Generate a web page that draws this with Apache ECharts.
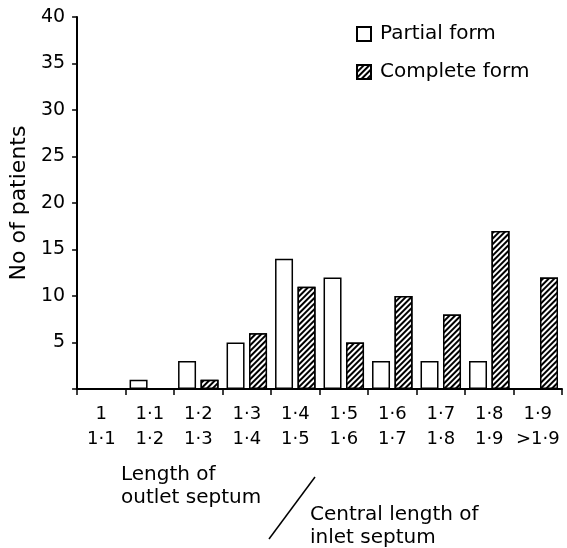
<!DOCTYPE html>
<html><head><meta charset="utf-8">
<script src="https://cdn.jsdelivr.net/npm/echarts@6/dist/echarts.min.js"></script>
<style>html,body{margin:0;padding:0;background:#fff}#c{width:567px;height:548px}</style>
</head><body><div id="c"></div>
<script>
const topLabels = ['1','1·1','1·2','1·3','1·4','1·5','1·6','1·7','1·8','1·9'];
const bottomLabels = ['1·1','1·2','1·3','1·4','1·5','1·6','1·7','1·8','1·9','>1·9'];
const partialForm = [0,1,3,5,14,12,3,3,3,0];
const completeForm = [0,0,1,6,11,5,10,8,17,12];
const yTicks = [0,5,10,15,20,25,30,35,40];

const categories = topLabels.map((t,i)=>t+'\n'+bottomLabels[i]);
const FONT = 'DejaVu Sans';
const chart = echarts.init(document.getElementById('c'));
const hatch = {symbol:'rect', color:'#000', backgroundColor:'#fff', dashArrayX:[1,0], dashArrayY:[1.3,2], rotation:-Math.PI/4, symbolSize:1};
chart.setOption({
  animation:false,
  backgroundColor:'#fff',
  textStyle:{fontFamily:FONT,color:'#000'},
  legend:{orient:'vertical',left:351,top:19,itemWidth:14,itemHeight:14,itemGap:18,icon:'rect',
    textStyle:{fontFamily:FONT,fontSize:20,color:'#000',padding:[0,0,0,4]},
    data:[{name:'Partial form'},{name:'Complete form'}]},
  grid:{left:77,right:5,top:17,bottom:159},
  xAxis:{type:'category',data:categories,
    axisLine:{lineStyle:{color:'#000',width:2}},
    axisTick:{show:true,length:6,lineStyle:{color:'#000',width:1.5}},
    axisLabel:{color:'#000',fontFamily:FONT,fontSize:18,lineHeight:25,margin:13,interval:0}},
  yAxis:{type:'value',min:yTicks[0],max:yTicks[yTicks.length-1],interval:5,
    name:'No of patients',nameLocation:'middle',nameGap:40,nameRotate:90,
    nameTextStyle:{fontFamily:FONT,fontSize:22,color:'#000'},
    axisLine:{show:true,lineStyle:{color:'#000',width:2}},
    axisTick:{show:true,length:5,lineStyle:{color:'#000',width:1.5}},
    splitLine:{show:false},
    axisLabel:{color:'#000',fontFamily:FONT,fontSize:19,margin:12,
      formatter:v=>v===0?'':String(v)}},
  series:[
    {name:'Partial form',type:'bar',barWidth:18,barGap:'25%',
      data:partialForm.map(v=>v===0?'-':v),
      itemStyle:{color:'#fff',borderColor:'#000',borderWidth:1.5}},
    {name:'Complete form',type:'bar',barWidth:18,
      data:completeForm.map(v=>v===0?'-':v),
      itemStyle:{color:'#fff',borderColor:'#000',borderWidth:1.5,decal:hatch}}
  ],
  graphic:[
    {type:'text',left:121,top:463,style:{text:'Length of\noutlet septum',font:'20px "DejaVu Sans"',fill:'#000',lineHeight:23}},
    {type:'line',shape:{x1:315,y1:477,x2:269,y2:539},style:{stroke:'#000',lineWidth:1.5}},
    {type:'text',left:310,top:503,style:{text:'Central length of\ninlet septum',font:'20px "DejaVu Sans"',fill:'#000',lineHeight:23}}
  ]
});
</script></body></html>
